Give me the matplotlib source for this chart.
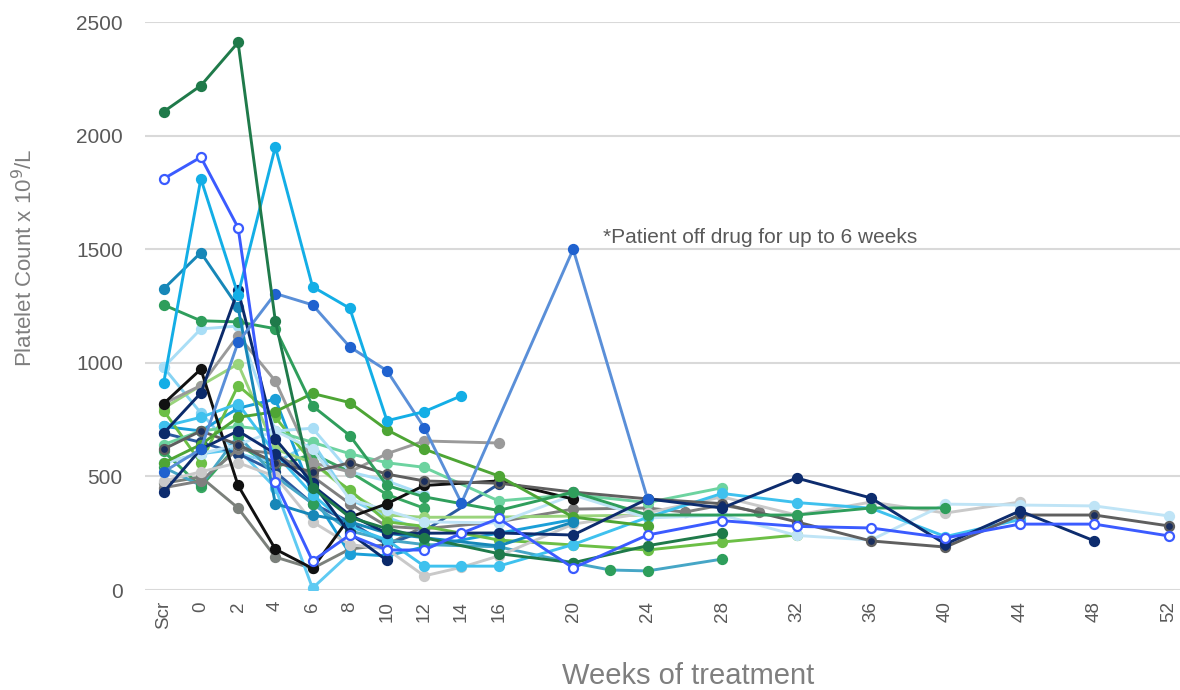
import matplotlib
matplotlib.use("Agg")
import matplotlib.pyplot as plt

# week -2 stands for the screening visit ("Scr")
TICK_WEEKS = [-2, 0, 2, 4, 6, 8, 10, 12, 14, 16, 20, 24, 28, 32, 36, 40, 44, 48, 52]
TICK_LABELS = ["Scr", "0", "2", "4", "6", "8", "10", "12", "14", "16",
               "20", "24", "28", "32", "36", "40", "44", "48", "52"]
Y_TICKS = [0, 500, 1000, 1500, 2000, 2500]

NOTE = "*Patient off drug for up to 6 weeks"

# platelet counts (x10^9/L) per patient: visit weeks and values
pt01_wk = [-2, 0, 2, 4, 6, 8, 10, 12, 16, 20, 24, 28]
pt01_plt = [2105, 2220, 2410, 1185, 450, 320, 270, 230, 160, 120, 195, 250]

pt02_wk = [-2, 0, 2, 4, 6, 8, 10, 12, 16, 20]
pt02_plt = [1325, 1485, 1245, 380, 330, 300, 250, 230, 194, 299]

pt03_wk = [-2, 0, 2, 4, 6, 8, 10, 12, 16, 20, 24, 32, 36, 40]
pt03_plt = [1255, 1185, 1180, 1150, 810, 680, 460, 410, 350, 431, 330, 330, 361, 361]

pt04_wk = [-2, 0, 2, 4, 6, 8, 10, 12, 16, 20, 24]
pt04_plt = [560, 640, 760, 785, 865, 825, 705, 620, 502, 321, 282]

pt05_wk = [-2, 0, 2, 4, 6, 8, 10, 12, 16, 20, 24, 28]
pt05_plt = [640, 700, 720, 700, 650, 600, 560, 540, 392, 420, 385, 450]

pt06_wk = [-2, 0, 2, 4, 6, 8, 10, 12, 16, 20, 24, 28, 32]
pt06_plt = [790, 560, 900, 760, 560, 440, 300, 280, 220, 198, 176, 211, 242]

pt07_wk = [-2, 0, 2, 4, 6, 8, 10, 12, 16, 24]
pt07_plt = [800, 900, 995, 620, 560, 430, 330, 320, 321, 330]

pt08_wk = [-2, 0, 2, 4, 6, 8, 10, 12]
pt08_plt = [610, 455, 640, 540, 600, 520, 420, 360]

pt09_wk = [-2, 0, 2, 4, 6, 8, 10, 12, 16, 20, 22, 24, 28]
pt09_plt = [540, 460, 680, 500, 380, 260, 220, 200, 190, 119, 88, 84, 136]

pt10_wk = [-2, 0, 2, 4, 6, 8, 10, 12]
pt10_plt = [470, 497, 361, 145, 95, 180, 200, 280]

pt11_wk = [-2, 0, 2, 4, 6, 8, 10, 12, 16]
pt11_plt = [820, 900, 1120, 920, 560, 520, 600, 656, 647]

pt12_wk = [-2, 0, 2, 4, 6, 8, 10, 12, 16, 20, 24, 26, 28, 30]
pt12_plt = [450, 480, 620, 600, 500, 380, 280, 270, 300, 356, 361, 343, 374, 343]

pt13_wk = [-2, 0, 2, 4, 6, 8, 10, 12, 16, 20]
pt13_plt = [820, 972, 460, 180, 95, 320, 380, 460, 480, 400]

pt14_wk = [-2, 0, 2, 4, 6, 8, 10, 12]
pt14_plt = [980, 1149, 1162, 700, 712, 520, 480, 420]

pt15_wk = [-2, 0, 2, 4, 6, 8, 10, 12]
pt15_plt = [980, 779, 600, 560, 650, 400, 320, 260]

pt16_wk = [-2, 0, 2, 4, 6, 8]
pt16_plt = [560, 600, 620, 450, 8, 160]

pt17_wk = [-2, 0, 2, 4, 6, 8, 10, 12, 16]
pt17_plt = [690, 650, 600, 520, 380, 300, 200, 260, 466]

pt18_wk = [-2, 0, 2, 4, 6, 8, 10, 12, 16, 20]
pt18_plt = [720, 700, 800, 840, 420, 160, 150, 190, 250, 310]

pt19_wk = [-2, 0, 2, 4, 6, 8, 10, 12, 14, 16, 20, 24, 28, 32, 36, 40, 44]
pt19_plt = [720, 760, 820, 600, 420, 280, 220, 105, 105, 105, 200, 320, 425, 385, 360, 235, 310]

pt20_wk = [-2, 0, 2, 4, 6, 8, 10, 12, 14, 16, 20, 24, 28, 32, 36, 40, 44]
pt20_plt = [480, 520, 560, 500, 300, 200, 180, 62, 100, 150, 290, 340, 410, 330, 387, 339, 387]

pt21_wk = [-2, 0, 2, 4, 6, 8, 10, 12, 16, 20, 24, 28, 32, 36, 40, 44, 48, 52]
pt21_plt = [560, 600, 640, 700, 620, 400, 350, 300, 295, 418, 317, 330, 240, 220, 378, 374, 370, 326]

pt22_wk = [-2, 0, 2, 4, 6, 8, 10, 12, 16, 20, 24, 28, 32, 36, 40, 44, 48, 52]
pt22_plt = [620, 700, 640, 560, 520, 560, 510, 480, 470, 431, 401, 380, 300, 216, 189, 330, 330, 282]

pt23_wk = [-2, 0, 2, 4, 6, 8, 10, 12, 16, 20, 24, 28, 32, 36, 40, 44, 48]
pt23_plt = [430, 620, 700, 600, 460, 330, 250, 250, 251, 242, 401, 361, 493, 405, 202, 348, 216]

pt24_wk = [-2, 0, 2, 4, 6, 8, 10]
pt24_plt = [690, 867, 1320, 665, 470, 250, 130]

pt25_wk = [-2, 0, 2, 4, 6, 8, 10, 12, 14, 20, 24]
pt25_plt = [520, 620, 1090, 1305, 1255, 1070, 965, 715, 383, 1500, 400]

pt26_wk = [-2, 0, 2, 4, 6, 8, 10, 12, 14]
pt26_plt = [910, 1810, 1300, 1950, 1335, 1240, 745, 785, 855]

pt27_wk = [-2, 0, 2, 4, 6, 8, 10, 12, 14, 16, 20, 24, 28, 32, 36, 40, 44, 48, 52]
pt27_plt = [1810, 1905, 1595, 475, 128, 242, 176, 176, 250, 315, 97, 242, 305, 280, 273, 229, 290, 290, 238]

# line colour, marker face, marker edge
patients = [
    (pt08_wk, pt08_plt, "#39a862", "#39a862", "#39a862"),
    (pt10_wk, pt10_plt, "#7b807b", "#7b807b", "#7b807b"),
    (pt16_wk, pt16_plt, "#5fcaf2", "#5fcaf2", "#5fcaf2"),
    (pt15_wk, pt15_plt, "#86d3f3", "#86d3f3", "#86d3f3"),
    (pt17_wk, pt17_plt, "#2b5aa0", "#1d3f7a", "#1d3f7a"),
    (pt18_wk, pt18_plt, "#1b9fd8", "#1b9fd8", "#1b9fd8"),
    (pt09_wk, pt09_plt, "#46a6c6", "#2e9e5b", "#2e9e5b"),
    (pt12_wk, pt12_plt, "#7f7f7f", "#7f7f7f", "#7f7f7f"),
    (pt07_wk, pt07_plt, "#9ad47c", "#9ad47c", "#9ad47c"),
    (pt06_wk, pt06_plt, "#6cbf46", "#6cbf46", "#6cbf46"),
    (pt05_wk, pt05_plt, "#6dd3a0", "#6dd3a0", "#6dd3a0"),
    (pt14_wk, pt14_plt, "#a9def6", "#a9def6", "#a9def6"),
    (pt11_wk, pt11_plt, "#9a9a9a", "#9a9a9a", "#9a9a9a"),
    (pt20_wk, pt20_plt, "#c9c9c9", "#c9c9c9", "#c9c9c9"),
    (pt21_wk, pt21_plt, "#bfe4f6", "#bfe4f6", "#bfe4f6"),
    (pt19_wk, pt19_plt, "#3fc1ee", "#3fc1ee", "#3fc1ee"),
    (pt13_wk, pt13_plt, "#111111", "#111111", "#111111"),
    (pt22_wk, pt22_plt, "#5f5f5f", "#1b2f5e", "#5f5f5f"),
    (pt04_wk, pt04_plt, "#4ea535", "#4ea535", "#4ea535"),
    (pt03_wk, pt03_plt, "#2f9e5c", "#2f9e5c", "#2f9e5c"),
    (pt02_wk, pt02_plt, "#1787b8", "#1787b8", "#1787b8"),
    (pt24_wk, pt24_plt, "#0b2a6a", "#0b2a6a", "#0b2a6a"),
    (pt23_wk, pt23_plt, "#0d2c6e", "#0d2c6e", "#0d2c6e"),
    (pt25_wk, pt25_plt, "#5a8fd8", "#2062cf", "#2062cf"),
    (pt26_wk, pt26_plt, "#13aee6", "#13aee6", "#13aee6"),
    (pt01_wk, pt01_plt, "#1f7a4a", "#1f7a4a", "#1f7a4a"),
    (pt27_wk, pt27_plt, "#3b5bff", "white", "#3b5bff"),
]

TEXT_COLOR = "#595959"

plt.rcParams["font.family"] = ["Liberation Sans", "DejaVu Sans"]

fig = plt.figure(figsize=(11.8, 6.9), dpi=100)
ax = fig.add_axes([145 / 1180, 100 / 690, 1035 / 1180, 568 / 690])

for wk, plt_count, line_c, face_c, edge_c in patients:
    ax.plot(wk, plt_count, color=line_c, lw=2.1, marker="o", ms=6.5,
            mfc=face_c, mec=edge_c, mew=1.6, solid_joinstyle="round")

ax.set_xlim(-3.0, 52.6)
ax.set_ylim(0, 2500)
ax.set_xticks(TICK_WEEKS)
ax.set_xticklabels(TICK_LABELS, rotation=90, fontsize=13.5, color=TEXT_COLOR)
ax.set_yticks(Y_TICKS)
ax.set_yticklabels([str(v) for v in Y_TICKS], fontsize=15, color=TEXT_COLOR)
ax.tick_params(axis="x", length=0, pad=8)
ax.tick_params(axis="y", length=0, pad=16)

ax.grid(axis="y", color="#d9d9d9", lw=1.5)
ax.set_axisbelow(True)
for side in ax.spines.values():
    side.set_visible(False)

ax.set_ylabel("Platelet Count x 10$^{9}$/L", fontsize=16, color="#7f7f7f")
ax.yaxis.set_label_coords(-0.104, 0.585)
ax.set_xlabel("Weeks of treatment", fontsize=21, color="#7f7f7f")
ax.xaxis.set_label_coords(0.525, -0.127)

ax.text(21.6, 1553, NOTE, fontsize=15, color=TEXT_COLOR, ha="left", va="center")

fig.savefig("out.png", dpi=100)
